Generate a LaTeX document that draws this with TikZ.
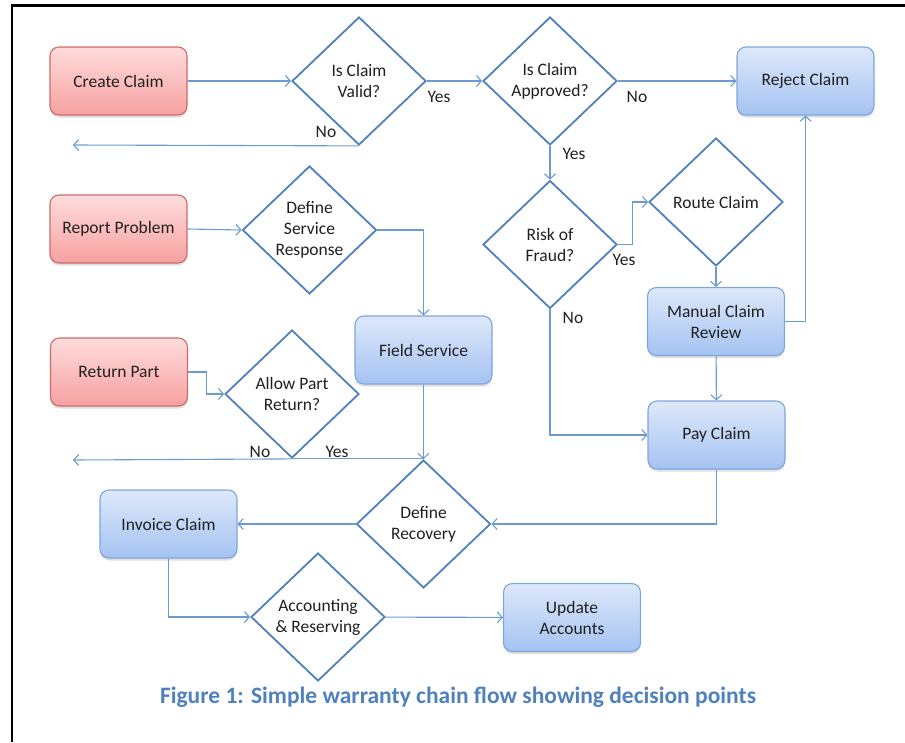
\documentclass[tikz,border=0pt]{standalone}
\usepackage{fontspec}
\setmainfont{Carlito}
\usetikzlibrary{shapes.geometric,arrows.meta,shadows}
\definecolor{linkblue}{HTML}{6C9BD2}
\definecolor{edgeblue}{HTML}{4F81BD}
\definecolor{boxline}{HTML}{7EA6DC}
\definecolor{boxtop}{HTML}{DDE8FA}
\definecolor{boxbot}{HTML}{A5C3F2}
\definecolor{redline}{HTML}{CF6A6A}
\definecolor{redtop}{HTML}{FFDCDC}
\definecolor{redbot}{HTML}{F6A0A0}
\definecolor{inktext}{HTML}{202020}
\tikzset{
  task/.style={draw=boxline,line width=1.1pt,rounded corners=9pt,
    top color=boxtop,bottom color=boxbot,minimum width=137pt,minimum height=68pt,
    align=center,text=inktext,
    drop shadow={shadow xshift=0pt,shadow yshift=-2.5pt,opacity=.25}},
  start/.style={task,draw=redline,top color=redtop,bottom color=redbot},
  decision/.style={diamond,draw=edgeblue,line width=1.8pt,fill=white,
    minimum width=134pt,minimum height=128pt,inner sep=0pt,align=center,text=inktext},
  link/.style={draw=linkblue,line width=1.1pt,-{Straight Barb[length=5pt,width=11pt]}},
  lbl/.style={text=inktext}
}
\begin{document}
\begin{tikzpicture}[x=1pt,y=-1pt,font=\fontsize{17.5}{21}\selectfont]
  \useasboundingbox (0,0) rectangle (905,742);
  % frame
  \draw[line width=2.8pt] (12,742) -- (12,5.5) -- (905,5.5);
  % nodes
  \node[start] (create) at (118.5,81) {Create Claim};
  \node[decision] (valid) at (359,81) {Is Claim\\Valid?};
  \node[decision] (approved) at (550,81) {Is Claim\\Approved?};
  \node[task] (reject) at (805.5,81) {Reject Claim};
  \node[start] (report) at (118.5,229) {Report Problem};
  \node[decision] (service) at (309.5,230) {Define\\Service\\Response};
  \node[decision] (fraud) at (550,244.5) {Risk of\\Fraud?};
  \node[decision] (route) at (716,202) {Route Claim};
  \node[task] (manual) at (716,321.5) {Manual Claim\\Review};
  \node[task] (field) at (423.5,350) {Field Service};
  \node[start] (return) at (119,372) {Return Part};
  \node[decision] (allow) at (292,394) {Allow Part\\Return?};
  \node[task] (pay) at (716.5,435) {Pay Claim};
  \node[decision] (recovery) at (423.5,524) {Define\\Recovery};
  \node[task] (invoice) at (168.5,524) {Invoice Claim};
  \node[decision] (accounting) at (318,617) {Accounting\\\& Reserving};
  \node[task] (update) at (572,617.5) {Update\\Accounts};
  \coordinate (validno) at (73,145);
  \coordinate (allowno) at (73,460);
  % connectors
  \draw[link] (create) -- (valid);
  \draw[link] (valid) -- (approved);
  \draw[link] (approved) -- (reject);
  \draw[link] (valid.south) -- (validno);
  \draw[link] (approved) -- (fraud);
  \draw[link] (report.east) -- (service.west);
  \draw[link] (service.east) -| (field.north);
  \draw[link] (return.east) -- ++(18,0) |- (allow.west);
  \draw[link] (allow.south) -- (allowno);
  \draw[draw=linkblue,line width=1.1pt] (allow.south) -- (allow.south -| recovery.north);
  \draw[link] (field.south) -- (recovery.north);
  \draw[link] (fraud.east) -- ++(15,0) |- (route.west);
  \draw[link] (route) -- (manual);
  \draw[link] (manual.east) -| (reject.south);
  \draw[link] (manual) -- (pay);
  \draw[link] (fraud.south) |- (pay.west);
  \draw[link] (pay.south) |- (recovery.east);
  \draw[link] (recovery.west) -- (invoice.east);
  \draw[link] (invoice.south) |- (accounting.west);
  \draw[link] (accounting) -- (update);
  % labels
  \node[lbl] (yesvalid) at (439,97) {Yes};
  \node[lbl] (novalid) at (326,132) {No};
  \node[lbl] (noapproved) at (637,97) {No};
  \node[lbl] (yesapproved) at (574,154) {Yes};
  \node[lbl] (yesfraud) at (624,260) {Yes};
  \node[lbl] (nofraud) at (573,318) {No};
  \node[lbl] (noallow) at (260,452) {No};
  \node[lbl] (yesallow) at (337,452) {Yes};
  % caption
  \node[font=\fontsize{23.5}{28}\selectfont\bfseries,text=edgeblue] (caption) at (458,697)
    {Figure 1: Simple warranty chain flow showing decision points};
\end{tikzpicture}
\end{document}
